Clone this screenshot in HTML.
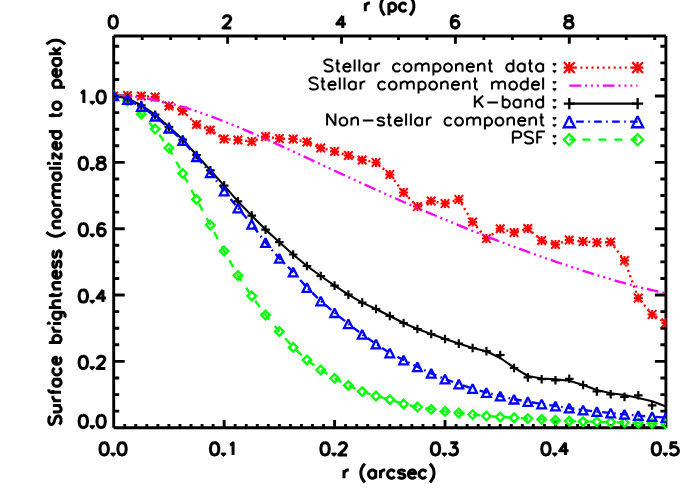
<!DOCTYPE html>
<html><head><meta charset="utf-8"><title>Surface brightness profile</title>
<style>html,body{margin:0;padding:0;background:#fff;font-family:"Liberation Sans",sans-serif}svg{display:block}</style></head>
<body>
<svg width="700" height="500" viewBox="0 0 700 500">
<rect width="700" height="500" fill="#fff"/>
<g stroke="#000" stroke-width="2.9" fill="none">
<path d="M113.6 36.05H666M113.6 427.75H666M113.7 35.95V427.85M665.9 35.95V427.85M113.7 427.75v-7.7M124.74 427.75v-3.85M135.79 427.75v-3.85M146.83 427.75v-3.85M157.88 427.75v-3.85M168.92 427.75v-3.85M179.96 427.75v-3.85M191.01 427.75v-3.85M202.05 427.75v-3.85M213.1 427.75v-3.85M224.14 427.75v-7.7M235.18 427.75v-3.85M246.23 427.75v-3.85M257.27 427.75v-3.85M268.32 427.75v-3.85M279.36 427.75v-3.85M290.4 427.75v-3.85M301.45 427.75v-3.85M312.49 427.75v-3.85M323.54 427.75v-3.85M334.58 427.75v-7.7M345.62 427.75v-3.85M356.67 427.75v-3.85M367.71 427.75v-3.85M378.76 427.75v-3.85M389.8 427.75v-3.85M400.84 427.75v-3.85M411.89 427.75v-3.85M422.93 427.75v-3.85M433.98 427.75v-3.85M445.02 427.75v-7.7M456.06 427.75v-3.85M467.11 427.75v-3.85M478.15 427.75v-3.85M489.2 427.75v-3.85M500.24 427.75v-3.85M511.28 427.75v-3.85M522.33 427.75v-3.85M533.37 427.75v-3.85M544.42 427.75v-3.85M555.46 427.75v-7.7M566.5 427.75v-3.85M577.55 427.75v-3.85M588.59 427.75v-3.85M599.64 427.75v-3.85M610.68 427.75v-3.85M621.72 427.75v-3.85M632.77 427.75v-3.85M643.81 427.75v-3.85M654.86 427.75v-3.85M665.9 427.75v-7.7M113.7 36.05v7.7M142.18 36.05v3.85M170.65 36.05v3.85M199.12 36.05v3.85M227.6 36.05v7.7M256.07 36.05v3.85M284.55 36.05v3.85M313.03 36.05v3.85M341.5 36.05v7.7M369.98 36.05v3.85M398.45 36.05v3.85M426.93 36.05v3.85M455.4 36.05v7.7M483.88 36.05v3.85M512.35 36.05v3.85M540.83 36.05v3.85M569.3 36.05v7.7M597.78 36.05v3.85M626.25 36.05v3.85M654.73 36.05v3.85M113.7 427.75h11M665.9 427.75h-11M113.7 411.17h5.5M665.9 411.17h-5.5M113.7 394.58h5.5M665.9 394.58h-5.5M113.7 378h5.5M665.9 378h-5.5M113.7 361.41h11M665.9 361.41h-11M113.7 344.82h5.5M665.9 344.82h-5.5M113.7 328.24h5.5M665.9 328.24h-5.5M113.7 311.65h5.5M665.9 311.65h-5.5M113.7 295.07h11M665.9 295.07h-11M113.7 278.49h5.5M665.9 278.49h-5.5M113.7 261.9h5.5M665.9 261.9h-5.5M113.7 245.31h5.5M665.9 245.31h-5.5M113.7 228.73h11M665.9 228.73h-11M113.7 212.14h5.5M665.9 212.14h-5.5M113.7 195.56h5.5M665.9 195.56h-5.5M113.7 178.97h5.5M665.9 178.97h-5.5M113.7 162.39h11M665.9 162.39h-11M113.7 145.81h5.5M665.9 145.81h-5.5M113.7 129.22h5.5M665.9 129.22h-5.5M113.7 112.63h5.5M665.9 112.63h-5.5M113.7 96.05h11M665.9 96.05h-11M113.7 79.46h5.5M665.9 79.46h-5.5M113.7 62.88h5.5M665.9 62.88h-5.5M113.7 46.29h5.5M665.9 46.29h-5.5"/>
</g>
<defs><clipPath id="c"><rect x="113.4" y="36.05" width="553.1" height="393.2"/></clipPath></defs>
<g clip-path="url(#c)" fill="none" stroke-linejoin="round">
<path d="M113.7 95.7L127.5 101L141.31 114L155.12 129L168.92 148L182.73 173.5L196.53 199.4L210.33 225L224.14 251L237.94 275.6L251.75 296L265.56 315L279.36 331.6L293.17 347.4L306.97 360L320.77 370L334.58 378.4L348.38 385.4L362.19 391.6L376 396L389.8 399.6L403.6 404L417.41 407L431.21 409.4L445.02 411.4L458.82 413L472.63 414.6L486.44 416L500.24 417L514.04 417.7L527.85 418.6L541.65 419.4L555.46 420.3L569.26 421L583.07 421.6L596.88 421.7L610.68 422.2L624.49 422.6L638.29 423.1L652.1 423.5L665.9 424" stroke="#00ff00" stroke-width="2.35" stroke-dasharray="7.7 8.3" stroke-dashoffset="2.8"/>
<path d="M113.7 91.4L118 95.7L113.7 100L109.4 95.7Z" stroke="#00ff00" stroke-width="2.3" stroke-linejoin="miter" stroke-miterlimit="2"/>
<path d="M127.5 96.7L131.81 101L127.5 105.3L123.2 101Z" stroke="#00ff00" stroke-width="2.3" stroke-linejoin="miter" stroke-miterlimit="2"/>
<path d="M141.31 109.7L145.61 114L141.31 118.3L137.01 114Z" stroke="#00ff00" stroke-width="2.3" stroke-linejoin="miter" stroke-miterlimit="2"/>
<path d="M155.12 124.7L159.42 129L155.12 133.3L150.81 129Z" stroke="#00ff00" stroke-width="2.3" stroke-linejoin="miter" stroke-miterlimit="2"/>
<path d="M168.92 143.7L173.22 148L168.92 152.3L164.62 148Z" stroke="#00ff00" stroke-width="2.3" stroke-linejoin="miter" stroke-miterlimit="2"/>
<path d="M182.73 169.2L187.03 173.5L182.73 177.8L178.43 173.5Z" stroke="#00ff00" stroke-width="2.3" stroke-linejoin="miter" stroke-miterlimit="2"/>
<path d="M196.53 195.1L200.83 199.4L196.53 203.7L192.23 199.4Z" stroke="#00ff00" stroke-width="2.3" stroke-linejoin="miter" stroke-miterlimit="2"/>
<path d="M210.33 220.7L214.63 225L210.33 229.3L206.03 225Z" stroke="#00ff00" stroke-width="2.3" stroke-linejoin="miter" stroke-miterlimit="2"/>
<path d="M224.14 246.7L228.44 251L224.14 255.3L219.84 251Z" stroke="#00ff00" stroke-width="2.3" stroke-linejoin="miter" stroke-miterlimit="2"/>
<path d="M237.94 271.3L242.25 275.6L237.94 279.9L233.64 275.6Z" stroke="#00ff00" stroke-width="2.3" stroke-linejoin="miter" stroke-miterlimit="2"/>
<path d="M251.75 291.7L256.05 296L251.75 300.3L247.45 296Z" stroke="#00ff00" stroke-width="2.3" stroke-linejoin="miter" stroke-miterlimit="2"/>
<path d="M265.56 310.7L269.86 315L265.56 319.3L261.25 315Z" stroke="#00ff00" stroke-width="2.3" stroke-linejoin="miter" stroke-miterlimit="2"/>
<path d="M279.36 327.3L283.66 331.6L279.36 335.9L275.06 331.6Z" stroke="#00ff00" stroke-width="2.3" stroke-linejoin="miter" stroke-miterlimit="2"/>
<path d="M293.17 343.1L297.47 347.4L293.17 351.7L288.87 347.4Z" stroke="#00ff00" stroke-width="2.3" stroke-linejoin="miter" stroke-miterlimit="2"/>
<path d="M306.97 355.7L311.27 360L306.97 364.3L302.67 360Z" stroke="#00ff00" stroke-width="2.3" stroke-linejoin="miter" stroke-miterlimit="2"/>
<path d="M320.77 365.7L325.07 370L320.77 374.3L316.47 370Z" stroke="#00ff00" stroke-width="2.3" stroke-linejoin="miter" stroke-miterlimit="2"/>
<path d="M334.58 374.1L338.88 378.4L334.58 382.7L330.28 378.4Z" stroke="#00ff00" stroke-width="2.3" stroke-linejoin="miter" stroke-miterlimit="2"/>
<path d="M348.38 381.1L352.69 385.4L348.38 389.7L344.08 385.4Z" stroke="#00ff00" stroke-width="2.3" stroke-linejoin="miter" stroke-miterlimit="2"/>
<path d="M362.19 387.3L366.49 391.6L362.19 395.9L357.89 391.6Z" stroke="#00ff00" stroke-width="2.3" stroke-linejoin="miter" stroke-miterlimit="2"/>
<path d="M376 391.7L380.3 396L376 400.3L371.69 396Z" stroke="#00ff00" stroke-width="2.3" stroke-linejoin="miter" stroke-miterlimit="2"/>
<path d="M389.8 395.3L394.1 399.6L389.8 403.9L385.5 399.6Z" stroke="#00ff00" stroke-width="2.3" stroke-linejoin="miter" stroke-miterlimit="2"/>
<path d="M403.6 399.7L407.9 404L403.6 408.3L399.3 404Z" stroke="#00ff00" stroke-width="2.3" stroke-linejoin="miter" stroke-miterlimit="2"/>
<path d="M417.41 402.7L421.71 407L417.41 411.3L413.11 407Z" stroke="#00ff00" stroke-width="2.3" stroke-linejoin="miter" stroke-miterlimit="2"/>
<path d="M431.21 405.1L435.51 409.4L431.21 413.7L426.91 409.4Z" stroke="#00ff00" stroke-width="2.3" stroke-linejoin="miter" stroke-miterlimit="2"/>
<path d="M445.02 407.1L449.32 411.4L445.02 415.7L440.72 411.4Z" stroke="#00ff00" stroke-width="2.3" stroke-linejoin="miter" stroke-miterlimit="2"/>
<path d="M458.82 408.7L463.12 413L458.82 417.3L454.52 413Z" stroke="#00ff00" stroke-width="2.3" stroke-linejoin="miter" stroke-miterlimit="2"/>
<path d="M472.63 410.3L476.93 414.6L472.63 418.9L468.33 414.6Z" stroke="#00ff00" stroke-width="2.3" stroke-linejoin="miter" stroke-miterlimit="2"/>
<path d="M486.44 411.7L490.74 416L486.44 420.3L482.13 416Z" stroke="#00ff00" stroke-width="2.3" stroke-linejoin="miter" stroke-miterlimit="2"/>
<path d="M500.24 412.7L504.54 417L500.24 421.3L495.94 417Z" stroke="#00ff00" stroke-width="2.3" stroke-linejoin="miter" stroke-miterlimit="2"/>
<path d="M514.04 413.4L518.34 417.7L514.04 422L509.74 417.7Z" stroke="#00ff00" stroke-width="2.3" stroke-linejoin="miter" stroke-miterlimit="2"/>
<path d="M527.85 414.3L532.15 418.6L527.85 422.9L523.55 418.6Z" stroke="#00ff00" stroke-width="2.3" stroke-linejoin="miter" stroke-miterlimit="2"/>
<path d="M541.65 415.1L545.95 419.4L541.65 423.7L537.36 419.4Z" stroke="#00ff00" stroke-width="2.3" stroke-linejoin="miter" stroke-miterlimit="2"/>
<path d="M555.46 416L559.76 420.3L555.46 424.6L551.16 420.3Z" stroke="#00ff00" stroke-width="2.3" stroke-linejoin="miter" stroke-miterlimit="2"/>
<path d="M569.26 416.7L573.56 421L569.26 425.3L564.97 421Z" stroke="#00ff00" stroke-width="2.3" stroke-linejoin="miter" stroke-miterlimit="2"/>
<path d="M583.07 417.3L587.37 421.6L583.07 425.9L578.77 421.6Z" stroke="#00ff00" stroke-width="2.3" stroke-linejoin="miter" stroke-miterlimit="2"/>
<path d="M596.88 417.4L601.17 421.7L596.88 426L592.58 421.7Z" stroke="#00ff00" stroke-width="2.3" stroke-linejoin="miter" stroke-miterlimit="2"/>
<path d="M610.68 417.9L614.98 422.2L610.68 426.5L606.38 422.2Z" stroke="#00ff00" stroke-width="2.3" stroke-linejoin="miter" stroke-miterlimit="2"/>
<path d="M624.49 418.3L628.78 422.6L624.49 426.9L620.19 422.6Z" stroke="#00ff00" stroke-width="2.3" stroke-linejoin="miter" stroke-miterlimit="2"/>
<path d="M638.29 418.8L642.59 423.1L638.29 427.4L633.99 423.1Z" stroke="#00ff00" stroke-width="2.3" stroke-linejoin="miter" stroke-miterlimit="2"/>
<path d="M652.1 419.2L656.39 423.5L652.1 427.8L647.8 423.5Z" stroke="#00ff00" stroke-width="2.3" stroke-linejoin="miter" stroke-miterlimit="2"/>
<path d="M665.9 419.7L670.2 424L665.9 428.3L661.6 424Z" stroke="#00ff00" stroke-width="2.3" stroke-linejoin="miter" stroke-miterlimit="2"/>
<path d="M113.7 96L127.5 95.6L141.31 96L155.12 97L168.92 106L182.73 111L196.53 124.4L210.33 130L224.14 139L237.94 140L251.75 141.4L265.56 136.6L279.36 138.6L293.17 139L306.97 142L320.77 148L334.58 151.4L348.38 155.5L362.19 160L376 162.4L389.8 174.4L403.6 192.4L417.41 206.6L431.21 201L445.02 203.6L458.82 199.4L472.63 222L486.44 238.6L500.24 228.8L514.04 232.5L527.85 228.5L541.65 240.5L555.46 244.5L569.26 240L583.07 241.4L596.88 242.6L610.68 242L624.49 260.6L638.29 298L652.1 314.4L665.9 323" stroke="#ff0000" stroke-width="2.35" stroke-dasharray="2 3.55"/>
<path d="M109.2 96h9M113.7 91.5v9M109.42 91.72l8.55 8.55M109.42 100.28l8.55 -8.55" stroke="#ff0000" stroke-width="2.0"/>
<path d="M123 95.6h9M127.5 91.1v9M123.23 91.32l8.55 8.55M123.23 99.88l8.55 -8.55" stroke="#ff0000" stroke-width="2.0"/>
<path d="M136.81 96h9M141.31 91.5v9M137.03 91.72l8.55 8.55M137.03 100.28l8.55 -8.55" stroke="#ff0000" stroke-width="2.0"/>
<path d="M150.62 97h9M155.12 92.5v9M150.84 92.72l8.55 8.55M150.84 101.28l8.55 -8.55" stroke="#ff0000" stroke-width="2.0"/>
<path d="M164.42 106h9M168.92 101.5v9M164.65 101.72l8.55 8.55M164.65 110.28l8.55 -8.55" stroke="#ff0000" stroke-width="2.0"/>
<path d="M178.23 111h9M182.73 106.5v9M178.45 106.72l8.55 8.55M178.45 115.28l8.55 -8.55" stroke="#ff0000" stroke-width="2.0"/>
<path d="M192.03 124.4h9M196.53 119.9v9M192.25 120.12l8.55 8.55M192.25 128.68l8.55 -8.55" stroke="#ff0000" stroke-width="2.0"/>
<path d="M205.83 130h9M210.33 125.5v9M206.06 125.72l8.55 8.55M206.06 134.28l8.55 -8.55" stroke="#ff0000" stroke-width="2.0"/>
<path d="M219.64 139h9M224.14 134.5v9M219.86 134.72l8.55 8.55M219.86 143.28l8.55 -8.55" stroke="#ff0000" stroke-width="2.0"/>
<path d="M233.44 140h9M237.94 135.5v9M233.67 135.72l8.55 8.55M233.67 144.28l8.55 -8.55" stroke="#ff0000" stroke-width="2.0"/>
<path d="M247.25 141.4h9M251.75 136.9v9M247.47 137.12l8.55 8.55M247.47 145.68l8.55 -8.55" stroke="#ff0000" stroke-width="2.0"/>
<path d="M261.06 136.6h9M265.56 132.1v9M261.28 132.32l8.55 8.55M261.28 140.88l8.55 -8.55" stroke="#ff0000" stroke-width="2.0"/>
<path d="M274.86 138.6h9M279.36 134.1v9M275.09 134.32l8.55 8.55M275.09 142.88l8.55 -8.55" stroke="#ff0000" stroke-width="2.0"/>
<path d="M288.67 139h9M293.17 134.5v9M288.89 134.72l8.55 8.55M288.89 143.28l8.55 -8.55" stroke="#ff0000" stroke-width="2.0"/>
<path d="M302.47 142h9M306.97 137.5v9M302.69 137.72l8.55 8.55M302.69 146.28l8.55 -8.55" stroke="#ff0000" stroke-width="2.0"/>
<path d="M316.27 148h9M320.77 143.5v9M316.5 143.72l8.55 8.55M316.5 152.28l8.55 -8.55" stroke="#ff0000" stroke-width="2.0"/>
<path d="M330.08 151.4h9M334.58 146.9v9M330.31 147.12l8.55 8.55M330.31 155.68l8.55 -8.55" stroke="#ff0000" stroke-width="2.0"/>
<path d="M343.88 155.5h9M348.38 151v9M344.11 151.22l8.55 8.55M344.11 159.78l8.55 -8.55" stroke="#ff0000" stroke-width="2.0"/>
<path d="M357.69 160h9M362.19 155.5v9M357.92 155.72l8.55 8.55M357.92 164.28l8.55 -8.55" stroke="#ff0000" stroke-width="2.0"/>
<path d="M371.5 162.4h9M376 157.9v9M371.72 158.12l8.55 8.55M371.72 166.68l8.55 -8.55" stroke="#ff0000" stroke-width="2.0"/>
<path d="M385.3 174.4h9M389.8 169.9v9M385.53 170.12l8.55 8.55M385.53 178.68l8.55 -8.55" stroke="#ff0000" stroke-width="2.0"/>
<path d="M399.1 192.4h9M403.6 187.9v9M399.33 188.12l8.55 8.55M399.33 196.68l8.55 -8.55" stroke="#ff0000" stroke-width="2.0"/>
<path d="M412.91 206.6h9M417.41 202.1v9M413.13 202.32l8.55 8.55M413.13 210.88l8.55 -8.55" stroke="#ff0000" stroke-width="2.0"/>
<path d="M426.71 201h9M431.21 196.5v9M426.94 196.72l8.55 8.55M426.94 205.28l8.55 -8.55" stroke="#ff0000" stroke-width="2.0"/>
<path d="M440.52 203.6h9M445.02 199.1v9M440.75 199.32l8.55 8.55M440.75 207.88l8.55 -8.55" stroke="#ff0000" stroke-width="2.0"/>
<path d="M454.32 199.4h9M458.82 194.9v9M454.55 195.12l8.55 8.55M454.55 203.68l8.55 -8.55" stroke="#ff0000" stroke-width="2.0"/>
<path d="M468.13 222h9M472.63 217.5v9M468.36 217.72l8.55 8.55M468.36 226.28l8.55 -8.55" stroke="#ff0000" stroke-width="2.0"/>
<path d="M481.94 238.6h9M486.44 234.1v9M482.16 234.32l8.55 8.55M482.16 242.88l8.55 -8.55" stroke="#ff0000" stroke-width="2.0"/>
<path d="M495.74 228.8h9M500.24 224.3v9M495.96 224.53l8.55 8.55M495.96 233.08l8.55 -8.55" stroke="#ff0000" stroke-width="2.0"/>
<path d="M509.54 232.5h9M514.04 228v9M509.77 228.22l8.55 8.55M509.77 236.78l8.55 -8.55" stroke="#ff0000" stroke-width="2.0"/>
<path d="M523.35 228.5h9M527.85 224v9M523.58 224.22l8.55 8.55M523.58 232.78l8.55 -8.55" stroke="#ff0000" stroke-width="2.0"/>
<path d="M537.15 240.5h9M541.65 236v9M537.38 236.22l8.55 8.55M537.38 244.78l8.55 -8.55" stroke="#ff0000" stroke-width="2.0"/>
<path d="M550.96 244.5h9M555.46 240v9M551.19 240.22l8.55 8.55M551.19 248.78l8.55 -8.55" stroke="#ff0000" stroke-width="2.0"/>
<path d="M564.76 240h9M569.26 235.5v9M564.99 235.72l8.55 8.55M564.99 244.28l8.55 -8.55" stroke="#ff0000" stroke-width="2.0"/>
<path d="M578.57 241.4h9M583.07 236.9v9M578.8 237.12l8.55 8.55M578.8 245.68l8.55 -8.55" stroke="#ff0000" stroke-width="2.0"/>
<path d="M592.38 242.6h9M596.88 238.1v9M592.6 238.32l8.55 8.55M592.6 246.88l8.55 -8.55" stroke="#ff0000" stroke-width="2.0"/>
<path d="M606.18 242h9M610.68 237.5v9M606.41 237.72l8.55 8.55M606.41 246.28l8.55 -8.55" stroke="#ff0000" stroke-width="2.0"/>
<path d="M619.99 260.6h9M624.49 256.1v9M620.21 256.33l8.55 8.55M620.21 264.88l8.55 -8.55" stroke="#ff0000" stroke-width="2.0"/>
<path d="M633.79 298h9M638.29 293.5v9M634.02 293.73l8.55 8.55M634.02 302.27l8.55 -8.55" stroke="#ff0000" stroke-width="2.0"/>
<path d="M647.6 314.4h9M652.1 309.9v9M647.82 310.12l8.55 8.55M647.82 318.67l8.55 -8.55" stroke="#ff0000" stroke-width="2.0"/>
<path d="M661.4 323h9M665.9 318.5v9M661.63 318.73l8.55 8.55M661.63 327.27l8.55 -8.55" stroke="#ff0000" stroke-width="2.0"/>
<path d="M113.7 95.81L120.69 95.88L127.68 96.22L134.67 96.83L141.66 97.69L148.65 98.78L155.64 100.09L162.63 101.59L169.62 103.29L176.61 105.15L183.6 107.18L190.59 109.35L197.58 111.65L204.57 114.08L211.56 116.62L218.55 119.26L225.54 121.99L232.53 124.81L239.52 127.7L246.51 130.65L253.5 133.66L260.49 136.72L267.48 139.83L274.47 142.97L281.46 146.14L288.45 149.34L295.44 152.55L302.43 155.78L309.42 159.02L316.41 162.27L323.4 165.51L330.39 168.76L337.38 172L344.37 175.23L351.36 178.45L358.35 181.65L365.34 184.84L372.33 188.02L379.32 191.17L386.31 194.3L393.29 197.41L400.28 200.5L407.27 203.56L414.26 206.59L421.25 209.6L428.24 212.58L435.23 215.54L442.22 218.46L449.21 221.36L456.2 224.22L463.19 227.06L470.18 229.87L477.17 232.65L484.16 235.39L491.15 238.11L498.14 240.8L505.13 243.45L512.12 246.07L519.11 248.67L526.1 251.22L533.09 253.75L540.08 256.24L547.07 258.7L554.06 261.12L561.05 263.5L568.04 265.84L575.03 268.15L582.02 270.41L589.01 272.63L596 274.8L602.99 276.93L609.98 279L616.97 281.02L623.96 282.98L630.95 284.88L637.94 286.72L644.93 288.49L651.92 290.18L658.91 291.8L665.9 293.34" stroke="#ff00ff" stroke-width="2.35" stroke-dasharray="11.8 3.95 2 3.9 2 3.9 2 3.95"/>
<path d="M113.7 95.7L127.5 98.5L141.31 105.3L155.12 114.7L168.92 126.8L182.73 139.6L196.53 155L210.33 170.3L224.14 185.6L237.94 201.4L251.75 215.6L265.56 229.6L279.36 242.2L293.17 254.5L306.97 266L320.77 276L334.58 285.6L348.38 294.6L362.19 302.6L376 309L389.8 316L403.6 323L417.41 329L431.21 334L445.02 339L458.82 343.6L472.63 348L486.44 351.2L500.24 358L514.04 367.6L527.85 376L541.65 378.5L555.46 379.4L569.26 380.8L583.07 385L596.88 390L610.68 393.3L624.49 395L638.29 398L652.1 401.2L665.9 406.5" stroke="#000" stroke-width="2.1"/>
<path d="M113.7 95.7L127.5 99.6L141.31 106.6L155.12 116.2L168.92 128.2L182.73 140.6L196.53 156.7L210.33 172.8L224.14 191L237.94 208L251.75 224.4L265.56 242.5L279.36 258.4L293.17 272L306.97 287.6L320.77 301L334.58 312.7L348.38 323.8L362.19 334.4L376 344L389.8 353L403.6 360L417.41 366.8L431.21 373.4L445.02 379L458.82 384L472.63 388.6L486.44 392.5L500.24 396L514.04 399.2L527.85 401.6L541.65 404L555.46 406L569.26 408L583.07 410L596.88 411.6L610.68 413L624.49 414.4L638.29 415.6L652.1 416.6L665.9 417.6" stroke="#0000ff" stroke-width="2.35" stroke-dasharray="7.6 4.35 1.6 4.25" stroke-dashoffset="1.15"/>
<path d="M109.4 95.7h8.6M113.7 91.4v8.6" stroke="#000" stroke-width="2.1999999999999997"/>
<path d="M123.2 98.5h8.6M127.5 94.2v8.6" stroke="#000" stroke-width="2.1999999999999997"/>
<path d="M137.01 105.3h8.6M141.31 101v8.6" stroke="#000" stroke-width="2.1999999999999997"/>
<path d="M150.81 114.7h8.6M155.12 110.4v8.6" stroke="#000" stroke-width="2.1999999999999997"/>
<path d="M164.62 126.8h8.6M168.92 122.5v8.6" stroke="#000" stroke-width="2.1999999999999997"/>
<path d="M178.43 139.6h8.6M182.73 135.3v8.6" stroke="#000" stroke-width="2.1999999999999997"/>
<path d="M192.23 155h8.6M196.53 150.7v8.6" stroke="#000" stroke-width="2.1999999999999997"/>
<path d="M206.03 170.3h8.6M210.33 166v8.6" stroke="#000" stroke-width="2.1999999999999997"/>
<path d="M219.84 185.6h8.6M224.14 181.3v8.6" stroke="#000" stroke-width="2.1999999999999997"/>
<path d="M233.64 201.4h8.6M237.94 197.1v8.6" stroke="#000" stroke-width="2.1999999999999997"/>
<path d="M247.45 215.6h8.6M251.75 211.3v8.6" stroke="#000" stroke-width="2.1999999999999997"/>
<path d="M261.25 229.6h8.6M265.56 225.3v8.6" stroke="#000" stroke-width="2.1999999999999997"/>
<path d="M275.06 242.2h8.6M279.36 237.9v8.6" stroke="#000" stroke-width="2.1999999999999997"/>
<path d="M288.87 254.5h8.6M293.17 250.2v8.6" stroke="#000" stroke-width="2.1999999999999997"/>
<path d="M302.67 266h8.6M306.97 261.7v8.6" stroke="#000" stroke-width="2.1999999999999997"/>
<path d="M316.47 276h8.6M320.77 271.7v8.6" stroke="#000" stroke-width="2.1999999999999997"/>
<path d="M330.28 285.6h8.6M334.58 281.3v8.6" stroke="#000" stroke-width="2.1999999999999997"/>
<path d="M344.08 294.6h8.6M348.38 290.3v8.6" stroke="#000" stroke-width="2.1999999999999997"/>
<path d="M357.89 302.6h8.6M362.19 298.3v8.6" stroke="#000" stroke-width="2.1999999999999997"/>
<path d="M371.69 309h8.6M376 304.7v8.6" stroke="#000" stroke-width="2.1999999999999997"/>
<path d="M385.5 316h8.6M389.8 311.7v8.6" stroke="#000" stroke-width="2.1999999999999997"/>
<path d="M399.3 323h8.6M403.6 318.7v8.6" stroke="#000" stroke-width="2.1999999999999997"/>
<path d="M413.11 329h8.6M417.41 324.7v8.6" stroke="#000" stroke-width="2.1999999999999997"/>
<path d="M426.91 334h8.6M431.21 329.7v8.6" stroke="#000" stroke-width="2.1999999999999997"/>
<path d="M440.72 339h8.6M445.02 334.7v8.6" stroke="#000" stroke-width="2.1999999999999997"/>
<path d="M454.52 343.6h8.6M458.82 339.3v8.6" stroke="#000" stroke-width="2.1999999999999997"/>
<path d="M468.33 348h8.6M472.63 343.7v8.6" stroke="#000" stroke-width="2.1999999999999997"/>
<path d="M482.13 351.2h8.6M486.44 346.9v8.6" stroke="#000" stroke-width="2.1999999999999997"/>
<path d="M495.94 355h8.6M500.24 350.7v8.6" stroke="#000" stroke-width="2.1999999999999997"/>
<path d="M509.74 368h8.6M514.04 363.7v8.6" stroke="#000" stroke-width="2.1999999999999997"/>
<path d="M523.55 377.4h8.6M527.85 373.1v8.6" stroke="#000" stroke-width="2.1999999999999997"/>
<path d="M537.36 379.2h8.6M541.65 374.9v8.6" stroke="#000" stroke-width="2.1999999999999997"/>
<path d="M551.16 380.3h8.6M555.46 376v8.6" stroke="#000" stroke-width="2.1999999999999997"/>
<path d="M564.97 378.8h8.6M569.26 374.5v8.6" stroke="#000" stroke-width="2.1999999999999997"/>
<path d="M578.77 385h8.6M583.07 380.7v8.6" stroke="#000" stroke-width="2.1999999999999997"/>
<path d="M592.58 391.4h8.6M596.88 387.1v8.6" stroke="#000" stroke-width="2.1999999999999997"/>
<path d="M606.38 394.3h8.6M610.68 390v8.6" stroke="#000" stroke-width="2.1999999999999997"/>
<path d="M620.19 396.9h8.6M624.49 392.6v8.6" stroke="#000" stroke-width="2.1999999999999997"/>
<path d="M633.99 395.3h8.6M638.29 391v8.6" stroke="#000" stroke-width="2.1999999999999997"/>
<path d="M647.8 405.4h8.6M652.1 401.1v8.6" stroke="#000" stroke-width="2.1999999999999997"/>
<path d="M113.7 91.4L118 100L109.4 100Z" stroke="#0000ff" stroke-width="2.3" stroke-linejoin="miter" stroke-miterlimit="2"/>
<path d="M127.5 95.3L131.81 103.9L123.2 103.9Z" stroke="#0000ff" stroke-width="2.3" stroke-linejoin="miter" stroke-miterlimit="2"/>
<path d="M141.31 102.3L145.61 110.9L137.01 110.9Z" stroke="#0000ff" stroke-width="2.3" stroke-linejoin="miter" stroke-miterlimit="2"/>
<path d="M155.12 111.9L159.42 120.5L150.81 120.5Z" stroke="#0000ff" stroke-width="2.3" stroke-linejoin="miter" stroke-miterlimit="2"/>
<path d="M168.92 123.9L173.22 132.5L164.62 132.5Z" stroke="#0000ff" stroke-width="2.3" stroke-linejoin="miter" stroke-miterlimit="2"/>
<path d="M182.73 136.3L187.03 144.9L178.43 144.9Z" stroke="#0000ff" stroke-width="2.3" stroke-linejoin="miter" stroke-miterlimit="2"/>
<path d="M196.53 152.4L200.83 161L192.23 161Z" stroke="#0000ff" stroke-width="2.3" stroke-linejoin="miter" stroke-miterlimit="2"/>
<path d="M210.33 168.5L214.63 177.1L206.03 177.1Z" stroke="#0000ff" stroke-width="2.3" stroke-linejoin="miter" stroke-miterlimit="2"/>
<path d="M224.14 186.7L228.44 195.3L219.84 195.3Z" stroke="#0000ff" stroke-width="2.3" stroke-linejoin="miter" stroke-miterlimit="2"/>
<path d="M237.94 203.7L242.25 212.3L233.64 212.3Z" stroke="#0000ff" stroke-width="2.3" stroke-linejoin="miter" stroke-miterlimit="2"/>
<path d="M251.75 220.1L256.05 228.7L247.45 228.7Z" stroke="#0000ff" stroke-width="2.3" stroke-linejoin="miter" stroke-miterlimit="2"/>
<path d="M265.56 238.2L269.86 246.8L261.25 246.8Z" stroke="#0000ff" stroke-width="2.3" stroke-linejoin="miter" stroke-miterlimit="2"/>
<path d="M279.36 254.1L283.66 262.7L275.06 262.7Z" stroke="#0000ff" stroke-width="2.3" stroke-linejoin="miter" stroke-miterlimit="2"/>
<path d="M293.17 267.7L297.47 276.3L288.87 276.3Z" stroke="#0000ff" stroke-width="2.3" stroke-linejoin="miter" stroke-miterlimit="2"/>
<path d="M306.97 283.3L311.27 291.9L302.67 291.9Z" stroke="#0000ff" stroke-width="2.3" stroke-linejoin="miter" stroke-miterlimit="2"/>
<path d="M320.77 296.7L325.07 305.3L316.47 305.3Z" stroke="#0000ff" stroke-width="2.3" stroke-linejoin="miter" stroke-miterlimit="2"/>
<path d="M334.58 308.4L338.88 317L330.28 317Z" stroke="#0000ff" stroke-width="2.3" stroke-linejoin="miter" stroke-miterlimit="2"/>
<path d="M348.38 319.5L352.69 328.1L344.08 328.1Z" stroke="#0000ff" stroke-width="2.3" stroke-linejoin="miter" stroke-miterlimit="2"/>
<path d="M362.19 330.1L366.49 338.7L357.89 338.7Z" stroke="#0000ff" stroke-width="2.3" stroke-linejoin="miter" stroke-miterlimit="2"/>
<path d="M376 339.7L380.3 348.3L371.69 348.3Z" stroke="#0000ff" stroke-width="2.3" stroke-linejoin="miter" stroke-miterlimit="2"/>
<path d="M389.8 348.7L394.1 357.3L385.5 357.3Z" stroke="#0000ff" stroke-width="2.3" stroke-linejoin="miter" stroke-miterlimit="2"/>
<path d="M403.6 355.7L407.9 364.3L399.3 364.3Z" stroke="#0000ff" stroke-width="2.3" stroke-linejoin="miter" stroke-miterlimit="2"/>
<path d="M417.41 362.5L421.71 371.1L413.11 371.1Z" stroke="#0000ff" stroke-width="2.3" stroke-linejoin="miter" stroke-miterlimit="2"/>
<path d="M431.21 369.1L435.51 377.7L426.91 377.7Z" stroke="#0000ff" stroke-width="2.3" stroke-linejoin="miter" stroke-miterlimit="2"/>
<path d="M445.02 374.7L449.32 383.3L440.72 383.3Z" stroke="#0000ff" stroke-width="2.3" stroke-linejoin="miter" stroke-miterlimit="2"/>
<path d="M458.82 379.7L463.12 388.3L454.52 388.3Z" stroke="#0000ff" stroke-width="2.3" stroke-linejoin="miter" stroke-miterlimit="2"/>
<path d="M472.63 384.3L476.93 392.9L468.33 392.9Z" stroke="#0000ff" stroke-width="2.3" stroke-linejoin="miter" stroke-miterlimit="2"/>
<path d="M486.44 388.2L490.74 396.8L482.13 396.8Z" stroke="#0000ff" stroke-width="2.3" stroke-linejoin="miter" stroke-miterlimit="2"/>
<path d="M500.24 391.7L504.54 400.3L495.94 400.3Z" stroke="#0000ff" stroke-width="2.3" stroke-linejoin="miter" stroke-miterlimit="2"/>
<path d="M514.04 394.9L518.34 403.5L509.74 403.5Z" stroke="#0000ff" stroke-width="2.3" stroke-linejoin="miter" stroke-miterlimit="2"/>
<path d="M527.85 397.3L532.15 405.9L523.55 405.9Z" stroke="#0000ff" stroke-width="2.3" stroke-linejoin="miter" stroke-miterlimit="2"/>
<path d="M541.65 399.7L545.95 408.3L537.36 408.3Z" stroke="#0000ff" stroke-width="2.3" stroke-linejoin="miter" stroke-miterlimit="2"/>
<path d="M555.46 401.7L559.76 410.3L551.16 410.3Z" stroke="#0000ff" stroke-width="2.3" stroke-linejoin="miter" stroke-miterlimit="2"/>
<path d="M569.26 403.7L573.56 412.3L564.97 412.3Z" stroke="#0000ff" stroke-width="2.3" stroke-linejoin="miter" stroke-miterlimit="2"/>
<path d="M583.07 405.7L587.37 414.3L578.77 414.3Z" stroke="#0000ff" stroke-width="2.3" stroke-linejoin="miter" stroke-miterlimit="2"/>
<path d="M596.88 407.3L601.17 415.9L592.58 415.9Z" stroke="#0000ff" stroke-width="2.3" stroke-linejoin="miter" stroke-miterlimit="2"/>
<path d="M610.68 408.7L614.98 417.3L606.38 417.3Z" stroke="#0000ff" stroke-width="2.3" stroke-linejoin="miter" stroke-miterlimit="2"/>
<path d="M624.49 410.1L628.78 418.7L620.19 418.7Z" stroke="#0000ff" stroke-width="2.3" stroke-linejoin="miter" stroke-miterlimit="2"/>
<path d="M638.29 411.3L642.59 419.9L633.99 419.9Z" stroke="#0000ff" stroke-width="2.3" stroke-linejoin="miter" stroke-miterlimit="2"/>
<path d="M652.1 412.3L656.39 420.9L647.8 420.9Z" stroke="#0000ff" stroke-width="2.3" stroke-linejoin="miter" stroke-miterlimit="2"/>
<path d="M665.9 413.3L670.2 421.9L661.6 421.9Z" stroke="#0000ff" stroke-width="2.3" stroke-linejoin="miter" stroke-miterlimit="2"/>
</g>
<path transform="translate(113.1 454.9) translate(-14.88 0)" d="M5.35 -12.18L3.57 -11.6L2.38 -9.86L1.78 -6.96L1.78 -5.22L2.38 -2.32L3.57 -0.58L5.35 0L6.54 0L8.33 -0.58L9.52 -2.32L10.12 -5.22L10.12 -6.96L9.52 -9.86L8.33 -11.6L6.54 -12.18L5.35 -12.18M23.2 -12.18L21.42 -11.6L20.23 -9.86L19.63 -6.96L19.63 -5.22L20.23 -2.32L21.42 -0.58L23.2 0L24.39 0L26.18 -0.58L27.37 -2.32L27.96 -5.22L27.96 -6.96L27.37 -9.86L26.18 -11.6L24.39 -12.18L23.2 -12.18" fill="none" stroke="#000" stroke-width="3.0" stroke-linejoin="round" stroke-linecap="butt"/><path transform="translate(113.1 454.9) translate(-14.88 0)" d="M12.68 -1.8L17.07 -1.8L17.07 -0.6L14.88 1.4L12.68 -0.6Z" fill="#000" stroke="#000" stroke-width="1.0" stroke-linejoin="round"/>
<path transform="translate(223.54 454.9) translate(-14.88 0)" d="M5.35 -12.18L3.57 -11.6L2.38 -9.86L1.78 -6.96L1.78 -5.22L2.38 -2.32L3.57 -0.58L5.35 0L6.54 0L8.33 -0.58L9.52 -2.32L10.12 -5.22L10.12 -6.96L9.52 -9.86L8.33 -11.6L6.54 -12.18L5.35 -12.18M21.42 -9.86L22.61 -10.44L24.39 -12.18L24.39 0" fill="none" stroke="#000" stroke-width="3.0" stroke-linejoin="round" stroke-linecap="butt"/><path transform="translate(223.54 454.9) translate(-14.88 0)" d="M12.68 -1.8L17.07 -1.8L17.07 -0.6L14.88 1.4L12.68 -0.6Z" fill="#000" stroke="#000" stroke-width="1.0" stroke-linejoin="round"/>
<path transform="translate(333.98 454.9) translate(-14.88 0)" d="M5.35 -12.18L3.57 -11.6L2.38 -9.86L1.78 -6.96L1.78 -5.22L2.38 -2.32L3.57 -0.58L5.35 0L6.54 0L8.33 -0.58L9.52 -2.32L10.12 -5.22L10.12 -6.96L9.52 -9.86L8.33 -11.6L6.54 -12.18L5.35 -12.18M20.23 -9.28L20.23 -9.86L20.82 -11.02L21.42 -11.6L22.61 -12.18L24.99 -12.18L26.18 -11.6L26.77 -11.02L27.37 -9.86L27.37 -8.7L26.77 -7.54L25.58 -5.8L19.63 0L27.96 0" fill="none" stroke="#000" stroke-width="3.0" stroke-linejoin="round" stroke-linecap="butt"/><path transform="translate(333.98 454.9) translate(-14.88 0)" d="M12.68 -1.8L17.07 -1.8L17.07 -0.6L14.88 1.4L12.68 -0.6Z" fill="#000" stroke="#000" stroke-width="1.0" stroke-linejoin="round"/>
<path transform="translate(444.42 454.9) translate(-14.88 0)" d="M5.35 -12.18L3.57 -11.6L2.38 -9.86L1.78 -6.96L1.78 -5.22L2.38 -2.32L3.57 -0.58L5.35 0L6.54 0L8.33 -0.58L9.52 -2.32L10.12 -5.22L10.12 -6.96L9.52 -9.86L8.33 -11.6L6.54 -12.18L5.35 -12.18M20.82 -12.18L27.37 -12.18L23.8 -7.54L25.58 -7.54L26.77 -6.96L27.37 -6.38L27.96 -4.64L27.96 -3.48L27.37 -1.74L26.18 -0.58L24.39 0L22.61 0L20.82 -0.58L20.23 -1.16L19.63 -2.32" fill="none" stroke="#000" stroke-width="3.0" stroke-linejoin="round" stroke-linecap="butt"/><path transform="translate(444.42 454.9) translate(-14.88 0)" d="M12.68 -1.8L17.07 -1.8L17.07 -0.6L14.88 1.4L12.68 -0.6Z" fill="#000" stroke="#000" stroke-width="1.0" stroke-linejoin="round"/>
<path transform="translate(554.86 454.9) translate(-14.88 0)" d="M5.35 -12.18L3.57 -11.6L2.38 -9.86L1.78 -6.96L1.78 -5.22L2.38 -2.32L3.57 -0.58L5.35 0L6.54 0L8.33 -0.58L9.52 -2.32L10.12 -5.22L10.12 -6.96L9.52 -9.86L8.33 -11.6L6.54 -12.18L5.35 -12.18M25.58 -12.18L19.63 -4.06L28.56 -4.06M25.58 -12.18L25.58 0" fill="none" stroke="#000" stroke-width="3.0" stroke-linejoin="round" stroke-linecap="butt"/><path transform="translate(554.86 454.9) translate(-14.88 0)" d="M12.68 -1.8L17.07 -1.8L17.07 -0.6L14.88 1.4L12.68 -0.6Z" fill="#000" stroke="#000" stroke-width="1.0" stroke-linejoin="round"/>
<path transform="translate(665.3 454.9) translate(-14.88 0)" d="M5.35 -12.18L3.57 -11.6L2.38 -9.86L1.78 -6.96L1.78 -5.22L2.38 -2.32L3.57 -0.58L5.35 0L6.54 0L8.33 -0.58L9.52 -2.32L10.12 -5.22L10.12 -6.96L9.52 -9.86L8.33 -11.6L6.54 -12.18L5.35 -12.18M26.77 -12.18L20.82 -12.18L20.23 -6.96L20.82 -7.54L22.61 -8.12L24.39 -8.12L26.18 -7.54L27.37 -6.38L27.96 -4.64L27.96 -3.48L27.37 -1.74L26.18 -0.58L24.39 0L22.61 0L20.82 -0.58L20.23 -1.16L19.63 -2.32" fill="none" stroke="#000" stroke-width="3.0" stroke-linejoin="round" stroke-linecap="butt"/><path transform="translate(665.3 454.9) translate(-14.88 0)" d="M12.68 -1.8L17.07 -1.8L17.07 -0.6L14.88 1.4L12.68 -0.6Z" fill="#000" stroke="#000" stroke-width="1.0" stroke-linejoin="round"/>
<path transform="translate(113.2 28) translate(-5.95 0)" d="M5.35 -12.18L3.57 -11.6L2.38 -9.86L1.78 -6.96L1.78 -5.22L2.38 -2.32L3.57 -0.58L5.35 0L6.54 0L8.33 -0.58L9.52 -2.32L10.12 -5.22L10.12 -6.96L9.52 -9.86L8.33 -11.6L6.54 -12.18L5.35 -12.18" fill="none" stroke="#000" stroke-width="3.0" stroke-linejoin="round" stroke-linecap="butt"/>
<path transform="translate(227.1 28) translate(-5.95 0)" d="M2.38 -9.28L2.38 -9.86L2.97 -11.02L3.57 -11.6L4.76 -12.18L7.14 -12.18L8.33 -11.6L8.92 -11.02L9.52 -9.86L9.52 -8.7L8.92 -7.54L7.73 -5.8L1.78 0L10.12 0" fill="none" stroke="#000" stroke-width="3.0" stroke-linejoin="round" stroke-linecap="butt"/>
<path transform="translate(341 28) translate(-5.95 0)" d="M7.73 -12.18L1.78 -4.06L10.71 -4.06M7.73 -12.18L7.73 0" fill="none" stroke="#000" stroke-width="3.0" stroke-linejoin="round" stroke-linecap="butt"/>
<path transform="translate(454.9 28) translate(-5.95 0)" d="M9.52 -10.44L8.92 -11.6L7.14 -12.18L5.95 -12.18L4.17 -11.6L2.97 -9.86L2.38 -6.96L2.38 -4.06L2.97 -1.74L4.17 -0.58L5.95 0L6.54 0L8.33 -0.58L9.52 -1.74L10.12 -3.48L10.12 -4.06L9.52 -5.8L8.33 -6.96L6.54 -7.54L5.95 -7.54L4.17 -6.96L2.97 -5.8L2.38 -4.06" fill="none" stroke="#000" stroke-width="3.0" stroke-linejoin="round" stroke-linecap="butt"/>
<path transform="translate(568.8 28) translate(-5.95 0)" d="M4.76 -12.18L2.97 -11.6L2.38 -10.44L2.38 -9.28L2.97 -8.12L4.17 -7.54L6.54 -6.96L8.33 -6.38L9.52 -5.22L10.12 -4.06L10.12 -2.32L9.52 -1.16L8.92 -0.58L7.14 0L4.76 0L2.97 -0.58L2.38 -1.16L1.78 -2.32L1.78 -4.06L2.38 -5.22L3.57 -6.38L5.35 -6.96L7.73 -7.54L8.92 -8.12L9.52 -9.28L9.52 -10.44L8.92 -11.6L7.14 -12.18L4.76 -12.18" fill="none" stroke="#000" stroke-width="3.0" stroke-linejoin="round" stroke-linecap="butt"/>
<path transform="translate(107.1 427.5) translate(-29.75 0)" d="M5.35 -12.18L3.57 -11.6L2.38 -9.86L1.78 -6.96L1.78 -5.22L2.38 -2.32L3.57 -0.58L5.35 0L6.54 0L8.33 -0.58L9.52 -2.32L10.12 -5.22L10.12 -6.96L9.52 -9.86L8.33 -11.6L6.54 -12.18L5.35 -12.18M23.2 -12.18L21.42 -11.6L20.23 -9.86L19.63 -6.96L19.63 -5.22L20.23 -2.32L21.42 -0.58L23.2 0L24.39 0L26.18 -0.58L27.37 -2.32L27.96 -5.22L27.96 -6.96L27.37 -9.86L26.18 -11.6L24.39 -12.18L23.2 -12.18" fill="none" stroke="#000" stroke-width="3.0" stroke-linejoin="round" stroke-linecap="butt"/><path transform="translate(107.1 427.5) translate(-29.75 0)" d="M12.68 -1.8L17.07 -1.8L17.07 -0.6L14.88 1.4L12.68 -0.6Z" fill="#000" stroke="#000" stroke-width="1.0" stroke-linejoin="round"/>
<path transform="translate(107.1 368.46) translate(-29.75 0)" d="M5.35 -12.18L3.57 -11.6L2.38 -9.86L1.78 -6.96L1.78 -5.22L2.38 -2.32L3.57 -0.58L5.35 0L6.54 0L8.33 -0.58L9.52 -2.32L10.12 -5.22L10.12 -6.96L9.52 -9.86L8.33 -11.6L6.54 -12.18L5.35 -12.18M20.23 -9.28L20.23 -9.86L20.82 -11.02L21.42 -11.6L22.61 -12.18L24.99 -12.18L26.18 -11.6L26.77 -11.02L27.37 -9.86L27.37 -8.7L26.77 -7.54L25.58 -5.8L19.63 0L27.96 0" fill="none" stroke="#000" stroke-width="3.0" stroke-linejoin="round" stroke-linecap="butt"/><path transform="translate(107.1 368.46) translate(-29.75 0)" d="M12.68 -1.8L17.07 -1.8L17.07 -0.6L14.88 1.4L12.68 -0.6Z" fill="#000" stroke="#000" stroke-width="1.0" stroke-linejoin="round"/>
<path transform="translate(107.1 302.12) translate(-29.75 0)" d="M5.35 -12.18L3.57 -11.6L2.38 -9.86L1.78 -6.96L1.78 -5.22L2.38 -2.32L3.57 -0.58L5.35 0L6.54 0L8.33 -0.58L9.52 -2.32L10.12 -5.22L10.12 -6.96L9.52 -9.86L8.33 -11.6L6.54 -12.18L5.35 -12.18M25.58 -12.18L19.63 -4.06L28.56 -4.06M25.58 -12.18L25.58 0" fill="none" stroke="#000" stroke-width="3.0" stroke-linejoin="round" stroke-linecap="butt"/><path transform="translate(107.1 302.12) translate(-29.75 0)" d="M12.68 -1.8L17.07 -1.8L17.07 -0.6L14.88 1.4L12.68 -0.6Z" fill="#000" stroke="#000" stroke-width="1.0" stroke-linejoin="round"/>
<path transform="translate(107.1 235.78) translate(-29.75 0)" d="M5.35 -12.18L3.57 -11.6L2.38 -9.86L1.78 -6.96L1.78 -5.22L2.38 -2.32L3.57 -0.58L5.35 0L6.54 0L8.33 -0.58L9.52 -2.32L10.12 -5.22L10.12 -6.96L9.52 -9.86L8.33 -11.6L6.54 -12.18L5.35 -12.18M27.37 -10.44L26.77 -11.6L24.99 -12.18L23.8 -12.18L22.02 -11.6L20.82 -9.86L20.23 -6.96L20.23 -4.06L20.82 -1.74L22.02 -0.58L23.8 0L24.39 0L26.18 -0.58L27.37 -1.74L27.96 -3.48L27.96 -4.06L27.37 -5.8L26.18 -6.96L24.39 -7.54L23.8 -7.54L22.02 -6.96L20.82 -5.8L20.23 -4.06" fill="none" stroke="#000" stroke-width="3.0" stroke-linejoin="round" stroke-linecap="butt"/><path transform="translate(107.1 235.78) translate(-29.75 0)" d="M12.68 -1.8L17.07 -1.8L17.07 -0.6L14.88 1.4L12.68 -0.6Z" fill="#000" stroke="#000" stroke-width="1.0" stroke-linejoin="round"/>
<path transform="translate(107.1 169.44) translate(-29.75 0)" d="M5.35 -12.18L3.57 -11.6L2.38 -9.86L1.78 -6.96L1.78 -5.22L2.38 -2.32L3.57 -0.58L5.35 0L6.54 0L8.33 -0.58L9.52 -2.32L10.12 -5.22L10.12 -6.96L9.52 -9.86L8.33 -11.6L6.54 -12.18L5.35 -12.18M22.61 -12.18L20.82 -11.6L20.23 -10.44L20.23 -9.28L20.82 -8.12L22.02 -7.54L24.39 -6.96L26.18 -6.38L27.37 -5.22L27.96 -4.06L27.96 -2.32L27.37 -1.16L26.77 -0.58L24.99 0L22.61 0L20.82 -0.58L20.23 -1.16L19.63 -2.32L19.63 -4.06L20.23 -5.22L21.42 -6.38L23.2 -6.96L25.58 -7.54L26.77 -8.12L27.37 -9.28L27.37 -10.44L26.77 -11.6L24.99 -12.18L22.61 -12.18" fill="none" stroke="#000" stroke-width="3.0" stroke-linejoin="round" stroke-linecap="butt"/><path transform="translate(107.1 169.44) translate(-29.75 0)" d="M12.68 -1.8L17.07 -1.8L17.07 -0.6L14.88 1.4L12.68 -0.6Z" fill="#000" stroke="#000" stroke-width="1.0" stroke-linejoin="round"/>
<path transform="translate(107.1 103.1) translate(-29.75 0)" d="M3.57 -9.86L4.76 -10.44L6.54 -12.18L6.54 0M23.2 -12.18L21.42 -11.6L20.23 -9.86L19.63 -6.96L19.63 -5.22L20.23 -2.32L21.42 -0.58L23.2 0L24.39 0L26.18 -0.58L27.37 -2.32L27.96 -5.22L27.96 -6.96L27.37 -9.86L26.18 -11.6L24.39 -12.18L23.2 -12.18" fill="none" stroke="#000" stroke-width="3.0" stroke-linejoin="round" stroke-linecap="butt"/><path transform="translate(107.1 103.1) translate(-29.75 0)" d="M12.68 -1.8L17.07 -1.8L17.07 -0.6L14.88 1.4L12.68 -0.6Z" fill="#000" stroke="#000" stroke-width="1.0" stroke-linejoin="round"/>
<path transform="translate(389 478.2) translate(-47.39 0)" d="M2.38 -8.12L2.38 0M2.38 -4.64L2.97 -6.38L4.17 -7.54L5.35 -8.12L7.14 -8.12M23.38 -14.5L22.19 -13.34L21 -11.6L19.81 -9.28L19.22 -6.38L19.22 -4.06L19.81 -1.16L21 1.16L22.19 2.9L23.38 4.06M34.09 -8.12L34.09 0M34.09 -6.38L32.9 -7.54L31.71 -8.12L29.93 -8.12L28.74 -7.54L27.55 -6.38L26.95 -4.64L26.95 -3.48L27.55 -1.74L28.74 -0.58L29.93 0L31.71 0L32.9 -0.58L34.09 -1.74M38.85 -8.12L38.85 0M38.85 -4.64L39.45 -6.38L40.64 -7.54L41.83 -8.12L43.61 -8.12M53.13 -6.38L51.94 -7.54L50.75 -8.12L48.97 -8.12L47.78 -7.54L46.59 -6.38L45.99 -4.64L45.99 -3.48L46.59 -1.74L47.78 -0.58L48.97 0L50.75 0L51.94 -0.58L53.13 -1.74M63.25 -6.38L62.65 -7.54L60.87 -8.12L59.08 -8.12L57.3 -7.54L56.7 -6.38L57.3 -5.22L58.49 -4.64L61.46 -4.06L62.65 -3.48L63.25 -2.32L63.25 -1.74L62.65 -0.58L60.87 0L59.08 0L57.3 -0.58L56.7 -1.74M66.82 -4.64L73.96 -4.64L73.96 -5.8L73.36 -6.96L72.77 -7.54L71.58 -8.12L69.79 -8.12L68.6 -7.54L67.41 -6.38L66.82 -4.64L66.82 -3.48L67.41 -1.74L68.6 -0.58L69.79 0L71.58 0L72.77 -0.58L73.96 -1.74M84.67 -6.38L83.48 -7.54L82.29 -8.12L80.5 -8.12L79.31 -7.54L78.12 -6.38L77.53 -4.64L77.53 -3.48L78.12 -1.74L79.31 -0.58L80.5 0L82.29 0L83.48 -0.58L84.67 -1.74M88.24 -14.5L89.43 -13.34L90.62 -11.6L91.81 -9.28L92.4 -6.38L92.4 -4.06L91.81 -1.16L90.62 1.16L89.43 2.9L88.24 4.06" fill="none" stroke="#000" stroke-width="3.0" stroke-linejoin="round" stroke-linecap="butt"/>
<path transform="translate(389.6 11.2) translate(-26.6 0)" d="M2.32 -8.12L2.32 0M2.32 -4.64L2.9 -6.38L4.06 -7.54L5.22 -8.12L6.96 -8.12M21.87 -14.5L20.71 -13.34L19.55 -11.6L18.39 -9.28L17.81 -6.38L17.81 -4.06L18.39 -1.16L19.55 1.16L20.71 2.9L21.87 4.06M25.93 -8.12L25.93 4.06M25.93 -6.38L27.09 -7.54L28.25 -8.12L29.99 -8.12L31.15 -7.54L32.31 -6.38L32.89 -4.64L32.89 -3.48L32.31 -1.74L31.15 -0.58L29.99 0L28.25 0L27.09 -0.58L25.93 -1.74M43.34 -6.38L42.18 -7.54L41.01 -8.12L39.27 -8.12L38.11 -7.54L36.95 -6.38L36.37 -4.64L36.37 -3.48L36.95 -1.74L38.11 -0.58L39.27 0L41.01 0L42.18 -0.58L43.34 -1.74M46.82 -14.5L47.98 -13.34L49.14 -11.6L50.3 -9.28L50.88 -6.38L50.88 -4.06L50.3 -1.16L49.14 1.16L47.98 2.9L46.82 4.06" fill="none" stroke="#000" stroke-width="3.0" stroke-linejoin="round" stroke-linecap="butt"/>
<path transform="translate(61 232) rotate(-90) translate(-194.21 0)" d="M10.12 -10.44L8.92 -11.6L7.14 -12.18L4.76 -12.18L2.97 -11.6L1.78 -10.44L1.78 -9.28L2.38 -8.12L2.97 -7.54L4.17 -6.96L7.73 -5.8L8.92 -5.22L9.52 -4.64L10.12 -3.48L10.12 -1.74L8.92 -0.58L7.14 0L4.76 0L2.97 -0.58L1.78 -1.74M14.28 -8.12L14.28 -2.32L14.88 -0.58L16.06 0L17.85 0L19.04 -0.58L20.82 -2.32M20.82 -8.12L20.82 0M25.58 -8.12L25.58 0M25.58 -4.64L26.18 -6.38L27.37 -7.54L28.56 -8.12L30.34 -8.12M36.89 -12.18L35.7 -12.18L34.51 -11.6L33.91 -9.86L33.91 0M32.13 -8.12L36.3 -8.12M47 -8.12L47 0M47 -6.38L45.81 -7.54L44.62 -8.12L42.84 -8.12L41.65 -7.54L40.46 -6.38L39.86 -4.64L39.86 -3.48L40.46 -1.74L41.65 -0.58L42.84 0L44.62 0L45.81 -0.58L47 -1.74M58.31 -6.38L57.12 -7.54L55.93 -8.12L54.14 -8.12L52.95 -7.54L51.77 -6.38L51.17 -4.64L51.17 -3.48L51.77 -1.74L52.95 -0.58L54.14 0L55.93 0L57.12 -0.58L58.31 -1.74M61.88 -4.64L69.02 -4.64L69.02 -5.8L68.42 -6.96L67.83 -7.54L66.64 -8.12L64.86 -8.12L63.66 -7.54L62.47 -6.38L61.88 -4.64L61.88 -3.48L62.47 -1.74L63.66 -0.58L64.86 0L66.64 0L67.83 -0.58L69.02 -1.74M83.72 -12.18L83.72 0M83.72 -6.38L84.91 -7.54L86.1 -8.12L87.88 -8.12L89.07 -7.54L90.26 -6.38L90.86 -4.64L90.86 -3.48L90.26 -1.74L89.07 -0.58L87.88 0L86.1 0L84.91 -0.58L83.72 -1.74M95.02 -8.12L95.02 0M95.02 -4.64L95.62 -6.38L96.81 -7.54L98 -8.12L99.78 -8.12M102.16 -12.18L102.76 -11.6L103.35 -12.18L102.76 -12.76L102.16 -12.18M102.76 -8.12L102.76 0M114.06 -8.12L114.06 1.16L113.47 2.9L112.87 3.48L111.68 4.06L109.9 4.06L108.71 3.48M114.06 -6.38L112.87 -7.54L111.68 -8.12L109.9 -8.12L108.71 -7.54L107.52 -6.38L106.92 -4.64L106.92 -3.48L107.52 -1.74L108.71 -0.58L109.9 0L111.68 0L112.87 -0.58L114.06 -1.74M118.82 -12.18L118.82 0M118.82 -5.8L120.61 -7.54L121.8 -8.12L123.58 -8.12L124.77 -7.54L125.37 -5.8L125.37 0M130.72 -12.18L130.72 -2.32L131.32 -0.58L132.51 0L133.7 0M128.94 -8.12L133.1 -8.12M137.27 -8.12L137.27 0M137.27 -5.8L139.05 -7.54L140.24 -8.12L142.03 -8.12L143.22 -7.54L143.81 -5.8L143.81 0M147.98 -4.64L155.12 -4.64L155.12 -5.8L154.52 -6.96L153.93 -7.54L152.74 -8.12L150.95 -8.12L149.76 -7.54L148.57 -6.38L147.98 -4.64L147.98 -3.48L148.57 -1.74L149.76 -0.58L150.95 0L152.74 0L153.93 -0.58L155.12 -1.74M165.23 -6.38L164.64 -7.54L162.85 -8.12L161.07 -8.12L159.28 -7.54L158.69 -6.38L159.28 -5.22L160.47 -4.64L163.45 -4.06L164.64 -3.48L165.23 -2.32L165.23 -1.74L164.64 -0.58L162.85 0L161.07 0L159.28 -0.58L158.69 -1.74M175.35 -6.38L174.75 -7.54L172.97 -8.12L171.18 -8.12L169.4 -7.54L168.8 -6.38L169.4 -5.22L170.59 -4.64L173.56 -4.06L174.75 -3.48L175.35 -2.32L175.35 -1.74L174.75 -0.58L172.97 0L171.18 0L169.4 -0.58L168.8 -1.74M194.21 -14.5L193.02 -13.34L191.83 -11.6L190.64 -9.28L190.04 -6.38L190.04 -4.06L190.64 -1.16L191.83 1.16L193.02 2.9L194.21 4.06M198.37 -8.12L198.37 0M198.37 -5.8L200.16 -7.54L201.35 -8.12L203.13 -8.12L204.32 -7.54L204.92 -5.8L204.92 0M212.06 -8.12L210.87 -7.54L209.68 -6.38L209.08 -4.64L209.08 -3.48L209.68 -1.74L210.87 -0.58L212.06 0L213.84 0L215.03 -0.58L216.22 -1.74L216.82 -3.48L216.82 -4.64L216.22 -6.38L215.03 -7.54L213.84 -8.12L212.06 -8.12M220.98 -8.12L220.98 0M220.98 -4.64L221.58 -6.38L222.77 -7.54L223.96 -8.12L225.74 -8.12M228.72 -8.12L228.72 0M228.72 -5.8L230.5 -7.54L231.69 -8.12L233.48 -8.12L234.67 -7.54L235.26 -5.8L235.26 0M235.26 -5.8L237.05 -7.54L238.24 -8.12L240.02 -8.12L241.21 -7.54L241.81 -5.8L241.81 0M253.11 -8.12L253.11 0M253.11 -6.38L251.92 -7.54L250.73 -8.12L248.95 -8.12L247.76 -7.54L246.57 -6.38L245.97 -4.64L245.97 -3.48L246.57 -1.74L247.76 -0.58L248.95 0L250.73 0L251.92 -0.58L253.11 -1.74M257.87 -12.18L257.87 0M262.04 -12.18L262.63 -11.6L263.23 -12.18L262.63 -12.76L262.04 -12.18M262.63 -8.12L262.63 0M273.34 -8.12L266.8 0M266.8 -8.12L273.34 -8.12M266.8 0L273.34 0M276.91 -4.64L284.05 -4.64L284.05 -5.8L283.46 -6.96L282.86 -7.54L281.67 -8.12L279.89 -8.12L278.7 -7.54L277.51 -6.38L276.91 -4.64L276.91 -3.48L277.51 -1.74L278.7 -0.58L279.89 0L281.67 0L282.86 -0.58L284.05 -1.74M294.76 -12.18L294.76 0M294.76 -6.38L293.57 -7.54L292.38 -8.12L290.6 -8.12L289.41 -7.54L288.22 -6.38L287.62 -4.64L287.62 -3.48L288.22 -1.74L289.41 -0.58L290.6 0L292.38 0L293.57 -0.58L294.76 -1.74M310.65 -12.18L310.65 -2.32L311.24 -0.58L312.43 0L313.62 0M308.86 -8.12L313.03 -8.12M319.57 -8.12L318.38 -7.54L317.19 -6.38L316.6 -4.64L316.6 -3.48L317.19 -1.74L318.38 -0.58L319.57 0L321.36 0L322.55 -0.58L323.74 -1.74L324.33 -3.48L324.33 -4.64L323.74 -6.38L322.55 -7.54L321.36 -8.12L319.57 -8.12M339.03 -8.12L339.03 4.06M339.03 -6.38L340.22 -7.54L341.41 -8.12L343.2 -8.12L344.39 -7.54L345.58 -6.38L346.17 -4.64L346.17 -3.48L345.58 -1.74L344.39 -0.58L343.2 0L341.41 0L340.22 -0.58L339.03 -1.74M349.74 -4.64L356.88 -4.64L356.88 -5.8L356.29 -6.96L355.69 -7.54L354.5 -8.12L352.72 -8.12L351.53 -7.54L350.34 -6.38L349.74 -4.64L349.74 -3.48L350.34 -1.74L351.53 -0.58L352.72 0L354.5 0L355.69 -0.58L356.88 -1.74M367.59 -8.12L367.59 0M367.59 -6.38L366.4 -7.54L365.21 -8.12L363.43 -8.12L362.24 -7.54L361.05 -6.38L360.45 -4.64L360.45 -3.48L361.05 -1.74L362.24 -0.58L363.43 0L365.21 0L366.4 -0.58L367.59 -1.74M372.35 -12.18L372.35 0M378.3 -8.12L372.35 -2.32M374.73 -4.64L378.9 0M381.87 -14.5L383.06 -13.34L384.25 -11.6L385.44 -9.28L386.04 -6.38L386.04 -4.06L385.44 -1.16L384.25 1.16L383.06 2.9L381.87 4.06" fill="none" stroke="#000" stroke-width="3.0" stroke-linejoin="round" stroke-linecap="butt"/>
<path transform="translate(554.6 71.6) translate(-232.08 0)" d="M10.1 -10.35L8.91 -11.5L7.13 -12.07L4.75 -12.07L2.97 -11.5L1.78 -10.35L1.78 -9.2L2.38 -8.05L2.97 -7.47L4.16 -6.9L7.72 -5.75L8.91 -5.17L9.5 -4.6L10.1 -3.45L10.1 -1.72L8.91 -0.57L7.13 0L4.75 0L2.97 -0.57L1.78 -1.72M14.85 -12.07L14.85 -2.3L15.44 -0.57L16.63 0L17.82 0M13.07 -8.05L17.23 -8.05M20.79 -4.6L27.92 -4.6L27.92 -5.75L27.32 -6.9L26.73 -7.47L25.54 -8.05L23.76 -8.05L22.57 -7.47L21.38 -6.32L20.79 -4.6L20.79 -3.45L21.38 -1.72L22.57 -0.57L23.76 0L25.54 0L26.73 -0.57L27.92 -1.72M32.08 -12.07L32.08 0M36.83 -12.07L36.83 0M48.11 -8.05L48.11 0M48.11 -6.32L46.93 -7.47L45.74 -8.05L43.96 -8.05L42.77 -7.47L41.58 -6.32L40.99 -4.6L40.99 -3.45L41.58 -1.72L42.77 -0.57L43.96 0L45.74 0L46.93 -0.57L48.11 -1.72M52.87 -8.05L52.87 0M52.87 -4.6L53.46 -6.32L54.65 -7.47L55.84 -8.05L57.62 -8.05M77.64 -6.32L76.45 -7.47L75.26 -8.05L73.48 -8.05L72.29 -7.47L71.1 -6.32L70.51 -4.6L70.51 -3.45L71.1 -1.72L72.29 -0.57L73.48 0L75.26 0L76.45 -0.57L77.64 -1.72M84.17 -8.05L82.98 -7.47L81.79 -6.32L81.2 -4.6L81.2 -3.45L81.79 -1.72L82.98 -0.57L84.17 0L85.95 0L87.14 -0.57L88.33 -1.72L88.92 -3.45L88.92 -4.6L88.33 -6.32L87.14 -7.47L85.95 -8.05L84.17 -8.05M93.08 -8.05L93.08 0M93.08 -5.75L94.86 -7.47L96.05 -8.05L97.83 -8.05L99.02 -7.47L99.61 -5.75L99.61 0M99.61 -5.75L101.4 -7.47L102.58 -8.05L104.37 -8.05L105.55 -7.47L106.15 -5.75L106.15 0M110.9 -8.05L110.9 4.02M110.9 -6.32L112.09 -7.47L113.28 -8.05L115.06 -8.05L116.25 -7.47L117.43 -6.32L118.03 -4.6L118.03 -3.45L117.43 -1.72L116.25 -0.57L115.06 0L113.28 0L112.09 -0.57L110.9 -1.72M124.56 -8.05L123.37 -7.47L122.19 -6.32L121.59 -4.6L121.59 -3.45L122.19 -1.72L123.37 -0.57L124.56 0L126.34 0L127.53 -0.57L128.72 -1.72L129.31 -3.45L129.31 -4.6L128.72 -6.32L127.53 -7.47L126.34 -8.05L124.56 -8.05M133.47 -8.05L133.47 0M133.47 -5.75L135.25 -7.47L136.44 -8.05L138.22 -8.05L139.41 -7.47L140.01 -5.75L140.01 0M144.16 -4.6L151.29 -4.6L151.29 -5.75L150.7 -6.9L150.1 -7.47L148.92 -8.05L147.13 -8.05L145.95 -7.47L144.76 -6.32L144.16 -4.6L144.16 -3.45L144.76 -1.72L145.95 -0.57L147.13 0L148.92 0L150.1 -0.57L151.29 -1.72M155.45 -8.05L155.45 0M155.45 -5.75L157.23 -7.47L158.42 -8.05L160.2 -8.05L161.39 -7.47L161.98 -5.75L161.98 0M167.33 -12.07L167.33 -2.3L167.92 -0.57L169.11 0L170.3 0M165.55 -8.05L169.71 -8.05M190.91 -12.07L190.91 0M190.91 -6.32L189.72 -7.47L188.54 -8.05L186.75 -8.05L185.57 -7.47L184.38 -6.32L183.78 -4.6L183.78 -3.45L184.38 -1.72L185.57 -0.57L186.75 0L188.54 0L189.72 -0.57L190.91 -1.72M202.2 -8.05L202.2 0M202.2 -6.32L201.01 -7.47L199.82 -8.05L198.04 -8.05L196.85 -7.47L195.66 -6.32L195.07 -4.6L195.07 -3.45L195.66 -1.72L196.85 -0.57L198.04 0L199.82 0L201.01 -0.57L202.2 -1.72M207.54 -12.07L207.54 -2.3L208.14 -0.57L209.33 0L210.51 0M205.76 -8.05L209.92 -8.05M220.61 -8.05L220.61 0M220.61 -6.32L219.42 -7.47L218.24 -8.05L216.45 -8.05L215.27 -7.47L214.08 -6.32L213.48 -4.6L213.48 -3.45L214.08 -1.72L215.27 -0.57L216.45 0L218.24 0L219.42 -0.57L220.61 -1.72" fill="none" stroke="#000" stroke-width="2.0" stroke-linejoin="round" stroke-linecap="butt"/><path transform="translate(554.6 71.6) translate(-232.08 0)" d="M230.4 -1.04L233.57 -1.04L233.57 -0.18L231.98 1.26L230.4 -0.18ZM230.4 -8.04L233.57 -8.04L233.57 -7.18L231.98 -5.74L230.4 -7.18Z" fill="#000" stroke="#000" stroke-width="0.7" stroke-linejoin="round"/>
<path d="M569.3 67.6H637.6" stroke="#ff0000" stroke-width="2.35" stroke-dasharray="2 3.55" fill="none"/>
<g fill="none"><path d="M563.6 67.6h11.4M569.3 61.9v11.4M563.88 62.18l10.83 10.83M563.88 73.02l10.83 -10.83" stroke="#ff0000" stroke-width="2.3"/><path d="M631.9 67.6h11.4M637.6 61.9v11.4M632.19 62.18l10.83 10.83M632.19 73.02l10.83 -10.83" stroke="#ff0000" stroke-width="2.3"/></g>
<path transform="translate(554.6 89.6) translate(-246.93 0)" d="M10.1 -10.35L8.91 -11.5L7.13 -12.07L4.75 -12.07L2.97 -11.5L1.78 -10.35L1.78 -9.2L2.38 -8.05L2.97 -7.47L4.16 -6.9L7.72 -5.75L8.91 -5.17L9.5 -4.6L10.1 -3.45L10.1 -1.72L8.91 -0.57L7.13 0L4.75 0L2.97 -0.57L1.78 -1.72M14.85 -12.07L14.85 -2.3L15.44 -0.57L16.63 0L17.82 0M13.07 -8.05L17.23 -8.05M20.79 -4.6L27.92 -4.6L27.92 -5.75L27.32 -6.9L26.73 -7.47L25.54 -8.05L23.76 -8.05L22.57 -7.47L21.38 -6.32L20.79 -4.6L20.79 -3.45L21.38 -1.72L22.57 -0.57L23.76 0L25.54 0L26.73 -0.57L27.92 -1.72M32.08 -12.07L32.08 0M36.83 -12.07L36.83 0M48.11 -8.05L48.11 0M48.11 -6.32L46.93 -7.47L45.74 -8.05L43.96 -8.05L42.77 -7.47L41.58 -6.32L40.99 -4.6L40.99 -3.45L41.58 -1.72L42.77 -0.57L43.96 0L45.74 0L46.93 -0.57L48.11 -1.72M52.87 -8.05L52.87 0M52.87 -4.6L53.46 -6.32L54.65 -7.47L55.84 -8.05L57.62 -8.05M77.64 -6.32L76.45 -7.47L75.26 -8.05L73.48 -8.05L72.29 -7.47L71.1 -6.32L70.51 -4.6L70.51 -3.45L71.1 -1.72L72.29 -0.57L73.48 0L75.26 0L76.45 -0.57L77.64 -1.72M84.17 -8.05L82.98 -7.47L81.79 -6.32L81.2 -4.6L81.2 -3.45L81.79 -1.72L82.98 -0.57L84.17 0L85.95 0L87.14 -0.57L88.33 -1.72L88.92 -3.45L88.92 -4.6L88.33 -6.32L87.14 -7.47L85.95 -8.05L84.17 -8.05M93.08 -8.05L93.08 0M93.08 -5.75L94.86 -7.47L96.05 -8.05L97.83 -8.05L99.02 -7.47L99.61 -5.75L99.61 0M99.61 -5.75L101.4 -7.47L102.58 -8.05L104.37 -8.05L105.55 -7.47L106.15 -5.75L106.15 0M110.9 -8.05L110.9 4.02M110.9 -6.32L112.09 -7.47L113.28 -8.05L115.06 -8.05L116.25 -7.47L117.43 -6.32L118.03 -4.6L118.03 -3.45L117.43 -1.72L116.25 -0.57L115.06 0L113.28 0L112.09 -0.57L110.9 -1.72M124.56 -8.05L123.37 -7.47L122.19 -6.32L121.59 -4.6L121.59 -3.45L122.19 -1.72L123.37 -0.57L124.56 0L126.34 0L127.53 -0.57L128.72 -1.72L129.31 -3.45L129.31 -4.6L128.72 -6.32L127.53 -7.47L126.34 -8.05L124.56 -8.05M133.47 -8.05L133.47 0M133.47 -5.75L135.25 -7.47L136.44 -8.05L138.22 -8.05L139.41 -7.47L140.01 -5.75L140.01 0M144.16 -4.6L151.29 -4.6L151.29 -5.75L150.7 -6.9L150.1 -7.47L148.92 -8.05L147.13 -8.05L145.95 -7.47L144.76 -6.32L144.16 -4.6L144.16 -3.45L144.76 -1.72L145.95 -0.57L147.13 0L148.92 0L150.1 -0.57L151.29 -1.72M155.45 -8.05L155.45 0M155.45 -5.75L157.23 -7.47L158.42 -8.05L160.2 -8.05L161.39 -7.47L161.98 -5.75L161.98 0M167.33 -12.07L167.33 -2.3L167.92 -0.57L169.11 0L170.3 0M165.55 -8.05L169.71 -8.05M184.38 -8.05L184.38 0M184.38 -5.75L186.16 -7.47L187.35 -8.05L189.13 -8.05L190.32 -7.47L190.91 -5.75L190.91 0M190.91 -5.75L192.69 -7.47L193.88 -8.05L195.66 -8.05L196.85 -7.47L197.45 -5.75L197.45 0M204.57 -8.05L203.39 -7.47L202.2 -6.32L201.6 -4.6L201.6 -3.45L202.2 -1.72L203.39 -0.57L204.57 0L206.36 0L207.54 -0.57L208.73 -1.72L209.33 -3.45L209.33 -4.6L208.73 -6.32L207.54 -7.47L206.36 -8.05L204.57 -8.05M220.02 -12.07L220.02 0M220.02 -6.32L218.83 -7.47L217.64 -8.05L215.86 -8.05L214.67 -7.47L213.48 -6.32L212.89 -4.6L212.89 -3.45L213.48 -1.72L214.67 -0.57L215.86 0L217.64 0L218.83 -0.57L220.02 -1.72M224.18 -4.6L231.3 -4.6L231.3 -5.75L230.71 -6.9L230.12 -7.47L228.93 -8.05L227.15 -8.05L225.96 -7.47L224.77 -6.32L224.18 -4.6L224.18 -3.45L224.77 -1.72L225.96 -0.57L227.15 0L228.93 0L230.12 -0.57L231.3 -1.72M235.46 -12.07L235.46 0" fill="none" stroke="#000" stroke-width="2.0" stroke-linejoin="round" stroke-linecap="butt"/><path transform="translate(554.6 89.6) translate(-246.93 0)" d="M245.25 -1.04L248.42 -1.04L248.42 -0.18L246.83 1.26L245.25 -0.18ZM245.25 -8.04L248.42 -8.04L248.42 -7.18L246.83 -5.74L245.25 -7.18Z" fill="#000" stroke="#000" stroke-width="0.7" stroke-linejoin="round"/>
<path d="M569.3 85.6H637.6" stroke="#ff00ff" stroke-width="2.35" stroke-dasharray="11.8 3.95 2 3.9 2 3.9 2 3.95" fill="none"/>
<path transform="translate(554.6 107.6) translate(-82.15 0)" d="M2.38 -12.07L2.38 0M10.69 -12.07L2.38 -4.02M5.35 -6.9L10.69 0M14.85 -5.17L25.54 -5.17M30.29 -12.07L30.29 0M30.29 -6.32L31.48 -7.47L32.67 -8.05L34.45 -8.05L35.64 -7.47L36.83 -6.32L37.42 -4.6L37.42 -3.45L36.83 -1.72L35.64 -0.57L34.45 0L32.67 0L31.48 -0.57L30.29 -1.72M48.11 -8.05L48.11 0M48.11 -6.32L46.93 -7.47L45.74 -8.05L43.96 -8.05L42.77 -7.47L41.58 -6.32L40.99 -4.6L40.99 -3.45L41.58 -1.72L42.77 -0.57L43.96 0L45.74 0L46.93 -0.57L48.11 -1.72M52.87 -8.05L52.87 0M52.87 -5.75L54.65 -7.47L55.84 -8.05L57.62 -8.05L58.81 -7.47L59.4 -5.75L59.4 0M70.69 -12.07L70.69 0M70.69 -6.32L69.5 -7.47L68.31 -8.05L66.53 -8.05L65.34 -7.47L64.15 -6.32L63.56 -4.6L63.56 -3.45L64.15 -1.72L65.34 -0.57L66.53 0L68.31 0L69.5 -0.57L70.69 -1.72" fill="none" stroke="#000" stroke-width="2.0" stroke-linejoin="round" stroke-linecap="butt"/><path transform="translate(554.6 107.6) translate(-82.15 0)" d="M80.47 -1.04L83.64 -1.04L83.64 -0.18L82.06 1.26L80.47 -0.18ZM80.47 -8.04L83.64 -8.04L83.64 -7.18L82.06 -5.74L80.47 -7.18Z" fill="#000" stroke="#000" stroke-width="0.7" stroke-linejoin="round"/>
<path d="M569.3 103.6H637.6" stroke="#000" stroke-width="2.2" fill="none"/>
<g fill="none"><path d="M563.7 103.6h11.2M569.3 98v11.2" stroke="#000" stroke-width="2.3"/><path d="M632 103.6h11.2M637.6 98v11.2" stroke="#000" stroke-width="2.3"/></g>
<path transform="translate(554.6 125.6) translate(-229.88 0)" d="M2.38 -12.07L2.38 0M2.38 -12.07L10.69 0M10.69 -12.07L10.69 0M17.82 -8.05L16.63 -7.47L15.44 -6.32L14.85 -4.6L14.85 -3.45L15.44 -1.72L16.63 -0.57L17.82 0L19.6 0L20.79 -0.57L21.98 -1.72L22.57 -3.45L22.57 -4.6L21.98 -6.32L20.79 -7.47L19.6 -8.05L17.82 -8.05M26.73 -8.05L26.73 0M26.73 -5.75L28.51 -7.47L29.7 -8.05L31.48 -8.05L32.67 -7.47L33.26 -5.75L33.26 0M38.02 -5.17L48.71 -5.17M59.4 -6.32L58.81 -7.47L57.02 -8.05L55.24 -8.05L53.46 -7.47L52.87 -6.32L53.46 -5.17L54.65 -4.6L57.62 -4.02L58.81 -3.45L59.4 -2.3L59.4 -1.72L58.81 -0.57L57.02 0L55.24 0L53.46 -0.57L52.87 -1.72M64.15 -12.07L64.15 -2.3L64.75 -0.57L65.93 0L67.12 0M62.37 -8.05L66.53 -8.05M70.09 -4.6L77.22 -4.6L77.22 -5.75L76.63 -6.9L76.03 -7.47L74.84 -8.05L73.06 -8.05L71.87 -7.47L70.69 -6.32L70.09 -4.6L70.09 -3.45L70.69 -1.72L71.87 -0.57L73.06 0L74.84 0L76.03 -0.57L77.22 -1.72M81.38 -12.07L81.38 0M86.13 -12.07L86.13 0M97.42 -8.05L97.42 0M97.42 -6.32L96.23 -7.47L95.04 -8.05L93.26 -8.05L92.07 -7.47L90.88 -6.32L90.29 -4.6L90.29 -3.45L90.88 -1.72L92.07 -0.57L93.26 0L95.04 0L96.23 -0.57L97.42 -1.72M102.17 -8.05L102.17 0M102.17 -4.6L102.76 -6.32L103.95 -7.47L105.14 -8.05L106.92 -8.05M126.94 -6.32L125.75 -7.47L124.56 -8.05L122.78 -8.05L121.59 -7.47L120.4 -6.32L119.81 -4.6L119.81 -3.45L120.4 -1.72L121.59 -0.57L122.78 0L124.56 0L125.75 -0.57L126.94 -1.72M133.47 -8.05L132.28 -7.47L131.1 -6.32L130.5 -4.6L130.5 -3.45L131.1 -1.72L132.28 -0.57L133.47 0L135.25 0L136.44 -0.57L137.63 -1.72L138.22 -3.45L138.22 -4.6L137.63 -6.32L136.44 -7.47L135.25 -8.05L133.47 -8.05M142.38 -8.05L142.38 0M142.38 -5.75L144.16 -7.47L145.35 -8.05L147.13 -8.05L148.32 -7.47L148.92 -5.75L148.92 0M148.92 -5.75L150.7 -7.47L151.89 -8.05L153.67 -8.05L154.86 -7.47L155.45 -5.75L155.45 0M160.2 -8.05L160.2 4.02M160.2 -6.32L161.39 -7.47L162.58 -8.05L164.36 -8.05L165.55 -7.47L166.74 -6.32L167.33 -4.6L167.33 -3.45L166.74 -1.72L165.55 -0.57L164.36 0L162.58 0L161.39 -0.57L160.2 -1.72M173.86 -8.05L172.68 -7.47L171.49 -6.32L170.89 -4.6L170.89 -3.45L171.49 -1.72L172.68 -0.57L173.86 0L175.65 0L176.83 -0.57L178.02 -1.72L178.62 -3.45L178.62 -4.6L178.02 -6.32L176.83 -7.47L175.65 -8.05L173.86 -8.05M182.77 -8.05L182.77 0M182.77 -5.75L184.56 -7.47L185.74 -8.05L187.53 -8.05L188.71 -7.47L189.31 -5.75L189.31 0M193.47 -4.6L200.59 -4.6L200.59 -5.75L200 -6.9L199.41 -7.47L198.22 -8.05L196.44 -8.05L195.25 -7.47L194.06 -6.32L193.47 -4.6L193.47 -3.45L194.06 -1.72L195.25 -0.57L196.44 0L198.22 0L199.41 -0.57L200.59 -1.72M204.75 -8.05L204.75 0M204.75 -5.75L206.53 -7.47L207.72 -8.05L209.5 -8.05L210.69 -7.47L211.29 -5.75L211.29 0M216.63 -12.07L216.63 -2.3L217.23 -0.57L218.41 0L219.6 0M214.85 -8.05L219.01 -8.05" fill="none" stroke="#000" stroke-width="2.0" stroke-linejoin="round" stroke-linecap="butt"/><path transform="translate(554.6 125.6) translate(-229.88 0)" d="M228.2 -1.04L231.37 -1.04L231.37 -0.18L229.78 1.26L228.2 -0.18ZM228.2 -8.04L231.37 -8.04L231.37 -7.18L229.78 -5.74L228.2 -7.18Z" fill="#000" stroke="#000" stroke-width="0.7" stroke-linejoin="round"/>
<path d="M569.3 121.6H637.6" stroke="#0000ff" stroke-width="2.35" stroke-dasharray="7.7 4.4 1.6 4.3" stroke-dashoffset="11.2" fill="none"/>
<g fill="none"><path d="M569.3 116.15L574.85 127.25L563.75 127.25Z" stroke="#0000ff" stroke-width="2.3" stroke-linejoin="miter" stroke-miterlimit="2"/><path d="M637.6 116.15L643.15 127.25L632.05 127.25Z" stroke="#0000ff" stroke-width="2.3" stroke-linejoin="miter" stroke-miterlimit="2"/></g>
<path transform="translate(554.6 143.6) translate(-44.13 0)" d="M2.38 -12.07L2.38 0M2.38 -12.07L7.72 -12.07L9.5 -11.5L10.1 -10.92L10.69 -9.77L10.69 -8.05L10.1 -6.9L9.5 -6.32L7.72 -5.75L2.38 -5.75M22.57 -10.35L21.38 -11.5L19.6 -12.07L17.23 -12.07L15.44 -11.5L14.26 -10.35L14.26 -9.2L14.85 -8.05L15.44 -7.47L16.63 -6.9L20.2 -5.75L21.38 -5.17L21.98 -4.6L22.57 -3.45L22.57 -1.72L21.38 -0.57L19.6 0L17.23 0L15.44 -0.57L14.26 -1.72M26.73 -12.07L26.73 0M26.73 -12.07L34.45 -12.07M26.73 -6.32L31.48 -6.32" fill="none" stroke="#000" stroke-width="2.0" stroke-linejoin="round" stroke-linecap="butt"/><path transform="translate(554.6 143.6) translate(-44.13 0)" d="M42.46 -1.04L45.62 -1.04L45.62 -0.18L44.04 1.26L42.46 -0.18ZM42.46 -8.04L45.62 -8.04L45.62 -7.18L44.04 -5.74L42.46 -7.18Z" fill="#000" stroke="#000" stroke-width="0.7" stroke-linejoin="round"/>
<path d="M569.3 139.6H637.6" stroke="#00ff00" stroke-width="2.35" stroke-dasharray="7.7 8.3" stroke-dashoffset="2.8" fill="none"/>
<g fill="none"><path d="M569.3 134.2L574.8 139.7L569.3 145.2L563.8 139.7Z" stroke="#00ff00" stroke-width="2.3" stroke-linejoin="miter" stroke-miterlimit="2"/><path d="M637.6 134.2L643.1 139.7L637.6 145.2L632.1 139.7Z" stroke="#00ff00" stroke-width="2.3" stroke-linejoin="miter" stroke-miterlimit="2"/></g>
</svg>
</body></html>
